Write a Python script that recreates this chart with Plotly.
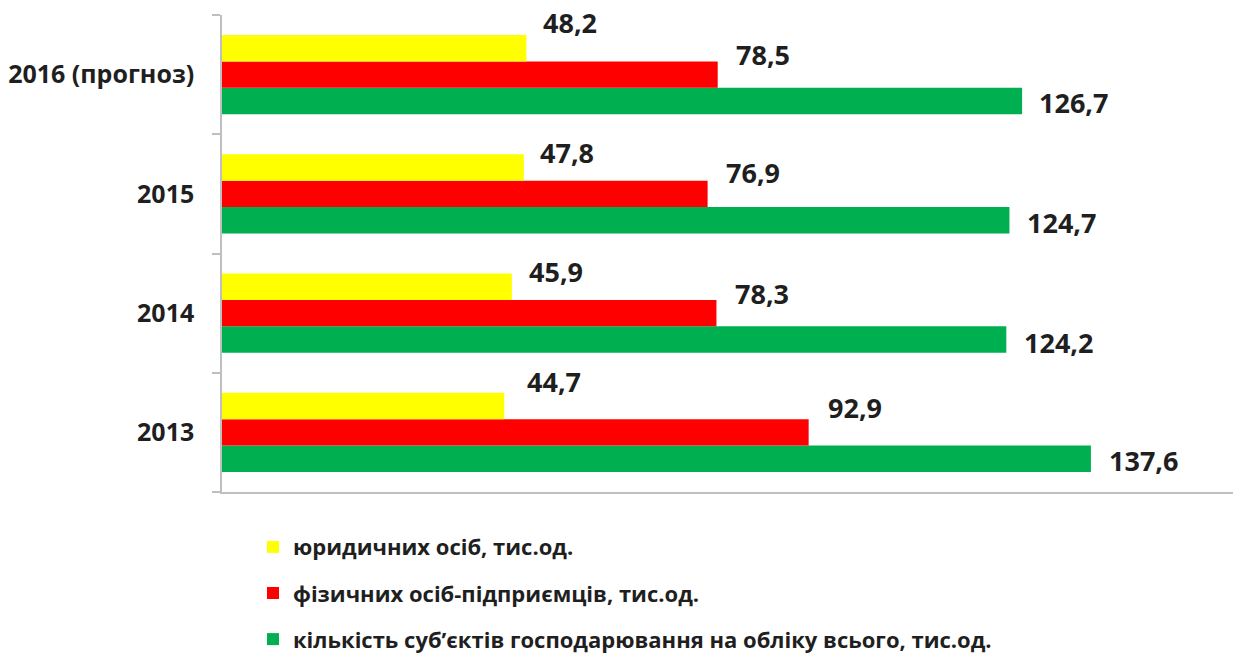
import plotly.graph_objects as go

# ---- data ----
categories = ["2013", "2014", "2015", "2016 (прогноз)"]
legal_entities = [44.7, 45.9, 47.8, 48.2]          # юридичних осіб
individual_entrepreneurs = [92.9, 78.3, 76.9, 78.5]  # фізичних осіб-підприємців
total_entities = [137.6, 124.2, 124.7, 126.7]      # кількість суб'єктів, всього

label_legal = "юридичних осіб, тис.од."
label_indiv = "фізичних осіб-підприємців, тис.од."
label_total = "кількість суб’єктів господарювання на обліку всього, тис.од."

# ---- style ----
W, H = 1233, 657
M_L, M_R, M_T, M_B = 222, 0, 15, 165
BARGAP = 0.335
X_MAX = 160.1
FONT = "Open Sans"
TXT = "#1f1f1f"
AXIS = "#bfbfbf"

# label offsets (pixels) relative to bar end / bar centre, per category
lab_dx = {"y": [21, 15, 14, 15], "r": [17, 17, 16, 16], "g": [16, 16, 16, 15]}
lab_dy = {"y": [24.5, 15, 15, 26], "r": [25, 20, 21, 20], "g": [-2, -2.5, -2.5, -1]}

fig = go.Figure()
series = [
    ("g", label_total, total_entities, "#00B050", 3),
    ("r", label_indiv, individual_entrepreneurs, "#FF0000", 2),
    ("y", label_legal, legal_entities, "#FFFF00", 1),
]
for key, name, vals, color, rank in series:
    fig.add_trace(go.Bar(
        y=categories, x=vals, orientation="h", name=name,
        marker=dict(color=color, line=dict(width=0)),
        legendgroup=key, legendrank=rank, hoverinfo="x+name",
    ))

plot_h = H - M_T - M_B
bar_px = (plot_h / len(categories)) * (1 - BARGAP) / 3
pos = {"g": -1, "r": 0, "y": 1}
annotations = []
for key, name, vals, color, rank in series:
    for i, v in enumerate(vals):
        annotations.append(dict(
            x=v, y=i, xref="x", yref="y",
            text=f"{v:.1f}".replace(".", ","),
            showarrow=False, xanchor="left", yanchor="middle",
            xshift=lab_dx[key][i], yshift=pos[key] * bar_px + lab_dy[key][i],
            font=dict(family=FONT, size=27, color=TXT, weight="bold"),
        ))

fig.update_layout(
    width=W, height=H,
    margin=dict(l=M_L, r=M_R, t=M_T, b=M_B, pad=0, autoexpand=False),
    paper_bgcolor="white", plot_bgcolor="white",
    barmode="group", bargap=BARGAP, bargroupgap=0,
    annotations=annotations,
    showlegend=True,
    legend=dict(
        x=(253 - M_L) / (W - M_L - M_R), xanchor="left",
        y=-0.0715, yanchor="top",
        traceorder="grouped", tracegroupgap=14.5,
        font=dict(family=FONT, size=22, color=TXT, weight="bold"),
        bgcolor="rgba(0,0,0,0)",
    ),
    xaxis=dict(
        range=[0, X_MAX], showgrid=False, zeroline=False, automargin=False,
        showticklabels=False, ticks="",
        showline=True, linecolor=AXIS, linewidth=1.5,
    ),
    yaxis=dict(
        type="category", categoryorder="array", categoryarray=categories,
        range=[-0.5, len(categories) - 0.5], autorange=False, automargin=False,
        showgrid=False, zeroline=False,
        showline=True, linecolor=AXIS, linewidth=1.5,
        ticks="outside", tickson="boundaries", ticklen=8, tickcolor=AXIS, tickwidth=1.5,
        ticklabelstandoff=21,
        tickfont=dict(family=FONT, size=25, color=TXT, weight="bold"),
    ),
)

fig.write_html(
    "out.html",
    config={"displayModeBar": False},
    post_script="document.body.style.margin='0px';document.body.style.overflow='hidden';",
)
